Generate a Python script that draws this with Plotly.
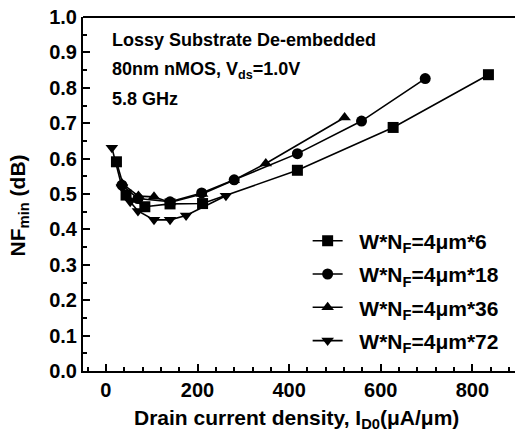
import plotly.graph_objects as go

# Data (x: drain current density uA/um, y: NFmin dB)
x_6 = [23, 44, 85, 140, 211, 418, 627, 835]
y_6 = [0.591, 0.497, 0.464, 0.472, 0.473, 0.567, 0.688, 0.837]

x_18 = [35, 70, 140, 209, 280, 418, 558, 697]
y_18 = [0.525, 0.487, 0.478, 0.503, 0.540, 0.614, 0.706, 0.826]

x_36 = [35, 71, 105, 140, 210, 279, 349, 521]
y_36 = [0.530, 0.494, 0.492, 0.476, 0.500, 0.539, 0.586, 0.716]

x_72 = [13, 35, 53, 70, 105, 140, 175, 262]
y_72 = [0.631, 0.520, 0.478, 0.452, 0.427, 0.427, 0.439, 0.495]

names = ["W*N<sub>F</sub>=4μm*6", "W*N<sub>F</sub>=4μm*18",
         "W*N<sub>F</sub>=4μm*36", "W*N<sub>F</sub>=4μm*72"]
symbols = ["square", "circle", "triangle-up", "triangle-down"]

x_ticks = [0, 200, 400, 600, 800]
y_ticks = [0.0, 0.1, 0.2, 0.3, 0.4, 0.5, 0.6, 0.7, 0.8, 0.9, 1.0]

FONT = "Liberation Sans, Arial, sans-serif"

fig = go.Figure()
for i, (xs, ys) in enumerate([(x_6, y_6), (x_18, y_18), (x_36, y_36), (x_72, y_72)]):
    fig.add_trace(go.Scatter(
        x=xs, y=ys, mode="lines+markers", name="\u00a0\u00a0" + names[i],
        legendgroup=str(i),
        line=dict(color="black", width=1.6),
        marker=dict(symbol=symbols[i], size=11, color="black",
                    line=dict(width=0)),
    ))

axis_common = dict(
    showline=True, linecolor="black", linewidth=2, mirror=False,
    ticks="inside", tickcolor="black", tickwidth=2, ticklen=7,
    showgrid=False, zeroline=False,
    tickfont=dict(family=FONT, size=20, color="black", weight="bold"),
)

fig.update_xaxes(range=[-50, 893], tickvals=x_ticks,
                 minor=dict(dtick=40, ticks="inside", ticklen=4, tickwidth=2, tickcolor="black",
                            tick0=0),
                 **axis_common)
fig.update_yaxes(range=[0, 1.0], tickvals=y_ticks, tickformat=".1f",
                 minor=dict(dtick=0.05, ticks="inside", ticklen=4, tickwidth=2, tickcolor="black",
                            tick0=0),
                 **axis_common)

# top border
fig.add_shape(type="line", xref="paper", yref="paper", x0=0, x1=1, y0=1, y1=1,
              line=dict(color="black", width=2))

ann_font = dict(family=FONT, size=18, color="black", weight="bold")
title_font = dict(family=FONT, size=21, color="black", weight="bold")
fig.add_annotation(text="Lossy Substrate De-embedded", xref="paper", yref="paper",
                   x=0.063, y=0.935, xanchor="left", yanchor="middle", showarrow=False, font=ann_font)
fig.add_annotation(text="80nm nMOS, V<sub>ds</sub>=1.0V", xref="paper", yref="paper",
                   x=0.063, y=0.85, xanchor="left", yanchor="middle", showarrow=False, font=ann_font)
fig.add_annotation(text="5.8 GHz", xref="paper", yref="paper",
                   x=0.063, y=0.768, xanchor="left", yanchor="middle", showarrow=False, font=ann_font)

fig.add_annotation(text="NF<sub>min</sub> (dB)", xref="paper", yref="paper",
                   x=-0.148, y=0.468, textangle=-90, xanchor="center", yanchor="middle",
                   showarrow=False, font=title_font)
fig.add_annotation(text="Drain current density, I<sub>D0</sub>(μA/μm)", xref="paper", yref="paper",
                   x=0.495, y=-0.135, xanchor="center", yanchor="middle",
                   showarrow=False, font=title_font)

fig.update_layout(
    width=515, height=441,
    margin=dict(l=83, r=0, t=17, b=70),
    plot_bgcolor="white", paper_bgcolor="white",
    showlegend=True,
    legend=dict(x=0.52, y=0.425, xanchor="left", yanchor="top",
                bgcolor="rgba(0,0,0,0)", tracegroupgap=3,
                font=dict(family=FONT, size=21, color="black", weight="bold")),
)

fig.write_html("out.html")
